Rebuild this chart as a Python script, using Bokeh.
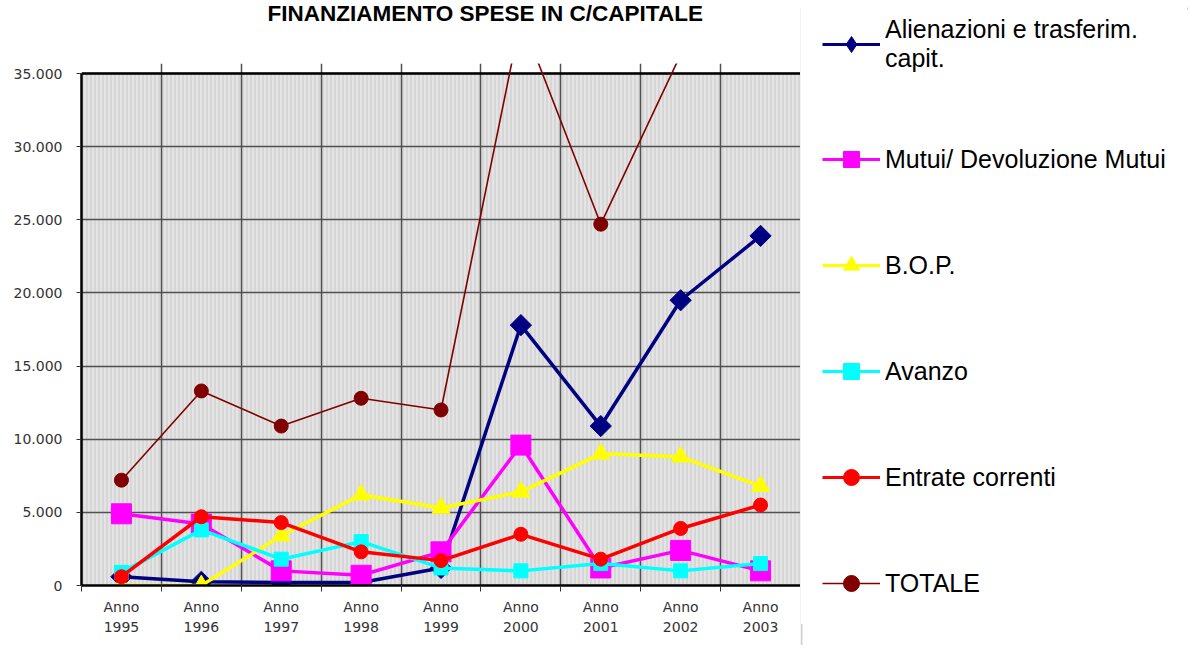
import numpy as np
from bokeh.plotting import figure
from bokeh.layouts import row, column
from bokeh.models import (Legend, LegendItem, FixedTicker, Range1d, BoxAnnotation, Span, Label)
from bokeh.embed import file_html
from bokeh.resources import INLINE

# ---------------- data ----------------
years = [1995, 1996, 1997, 1998, 1999, 2000, 2001, 2002, 2003]
alienazioni = [600, 250, 200, 200, 1200, 17800, 10900, 19500, 23900]
mutui = [4900, 4200, 1000, 700, 2300, 9600, 1200, 2400, 1000]
bop = [0, 0, 3400, 6200, 5300, 6400, 9000, 8800, 6800]
avanzo = [900, 3800, 1800, 3000, 1200, 1000, 1500, 1000, 1500]
entrate = [600, 4700, 4300, 2300, 1700, 3500, 1800, 3900, 5500]
totale = [7200, 13300, 10900, 12800, 12000, 38800, 24700, 36300, 38700]
series_names = ["Alienazioni e trasferim.\ncapit.", "Mutui/ Devoluzione Mutui", "B.O.P.",
                "Avanzo", "Entrate correnti", "TOTALE"]
y_ticks = [0, 5000, 10000, 15000, 20000, 25000, 30000, 35000]
title_text = "FINANZIAMENTO SPESE IN C/CAPITALE"

# ---------------- layout ----------------
W, H = 1188, 645
main_w = 800
title_h = 28
main_h = H - title_h
left_b = 81
top_b = 63 - title_h
frame_bottom = 585 - title_h
bottom_b = main_h - frame_bottom
y_top = y_ticks[-1] * 1.0196
leg_w = W - main_w

# title strip
tfig = figure(width=main_w, height=title_h, output_backend="svg", toolbar_location=None,
              x_range=Range1d(0, 1), y_range=Range1d(0, 1), min_border=0,
              x_axis_type=None, y_axis_type=None)
tfig.outline_line_color = None
tfig.grid.visible = False
tfig.add_layout(Label(x=186, y=3, x_units="screen", y_units="screen", text=title_text,
                      text_font="Liberation Sans", text_font_style="bold",
                      text_font_size="22.5px", text_color="black",
                      text_align="left", text_baseline="bottom"))

# main chart
p = figure(width=main_w, height=main_h, output_backend="svg", toolbar_location=None,
           x_range=Range1d(years[0] - 0.5, years[-1] + 0.5),
           y_range=Range1d(0, y_top),
           min_border_left=left_b, min_border_right=0,
           min_border_top=top_b, min_border_bottom=bottom_b)
p.background_fill_color = "white"
p.border_fill_color = "white"
p.outline_line_color = None

p.add_layout(BoxAnnotation(bottom=y_ticks[0], top=y_ticks[-1], fill_color="#e4e4e4", fill_alpha=1,
                           hatch_pattern="vertical_line", hatch_color="#d2d2d2", hatch_scale=4,
                           hatch_weight=1.5, line_color=None, level="image"))

bounds_x = [y - 0.5 for y in years] + [years[-1] + 0.5]

p.xgrid.ticker = FixedTicker(ticks=bounds_x)
p.xgrid.grid_line_color = "#505050"
p.xgrid.grid_line_width = 1.5
p.xgrid.bounds = (y_ticks[0], y_ticks[-1])
p.ygrid.ticker = FixedTicker(ticks=y_ticks)
p.ygrid.grid_line_color = "#505050"
p.ygrid.grid_line_width = 1.5
p.add_layout(Span(location=y_ticks[-1], dimension="width", line_color="black",
                  line_width=2.5, level="underlay"))

p.yaxis.ticker = FixedTicker(ticks=y_ticks)
p.yaxis.major_label_overrides = {t: f"{t:,}".replace(",", ".") for t in y_ticks}
p.yaxis.bounds = (y_ticks[0], y_ticks[-1])
p.yaxis.axis_line_color = "black"
p.yaxis.axis_line_width = 2.5
p.yaxis.major_tick_out = 5
p.yaxis.major_tick_in = 0
p.yaxis.major_tick_line_color = "#333333"
p.yaxis.minor_tick_line_color = None
p.yaxis.major_label_text_font = "DejaVu Sans"
p.yaxis.major_label_text_font_size = "14px"
p.yaxis.major_label_text_color = "#333333"
p.yaxis.major_label_standoff = 14

p.xaxis.ticker = FixedTicker(ticks=years, minor_ticks=bounds_x)
p.xaxis.major_label_overrides = {y: f"Anno\n{y}" for y in years}
p.xaxis.axis_line_color = "black"
p.xaxis.axis_line_width = 2.5
p.xaxis.major_tick_line_color = None
p.xaxis.major_tick_out = 0
p.xaxis.major_tick_in = 0
p.xaxis.minor_tick_out = 6
p.xaxis.minor_tick_in = 0
p.xaxis.minor_tick_line_color = "#333333"
p.xaxis.major_label_text_font = "DejaVu Sans"
p.xaxis.major_label_text_font_size = "14px"
p.xaxis.major_label_text_color = "#333333"
p.xaxis.major_label_text_line_height = 1.3
p.xaxis.major_label_standoff = 7

# legend panel (its glyph copies lie outside its own ranges; only the legend shows)
lfig = figure(width=leg_w, height=H, output_backend="svg", toolbar_location=None,
              x_range=Range1d(0, leg_w), y_range=Range1d(0, H), min_border=0,
              x_axis_type=None, y_axis_type=None)
lfig.outline_line_color = None
lfig.grid.visible = False
lfig.background_fill_color = "white"
lfig.border_fill_color = "white"
# legend frame: only left and top edges fall inside the window
lfig.add_layout(BoxAnnotation(left=1, right=leg_w + 20, bottom=-20, top=H - 8,
                              fill_alpha=0, line_color="#666666", line_width=2,
                              level="overlay"))

series = [
    (alienazioni, "#000080", 3.5, "square", 15, np.pi / 4, "diamond"),
    (mutui, "#FF00FF", 3.5, "square", 20, 0, "square"),
    (bop, "#FFFF00", 3.5, "triangle", 18, 0, "triangle"),
    (avanzo, "#00FFFF", 3.5, "square", 14, 0, "square"),
    (entrate, "#FF0000", 3.5, "circle", 14, 0, "circle"),
    (totale, "#800000", 1.6, "circle", 14, 0, "circle"),
]

items = []
for name, (vals, color, lw, marker, size, ang, lmarker) in zip(series_names, series):
    p.line(years, vals, line_color=color, line_width=lw)
    p.scatter(years, vals, marker=marker, size=size, angle=ang,
              fill_color=color, line_color=color)
    lr = lfig.line(years, vals, line_color=color, line_width=min(lw, 3))
    sr = lfig.scatter(years, vals, marker=lmarker, size=size,
                      fill_color=color, line_color=color)
    items.append(LegendItem(label=name, renderers=[lr, sr]))

legend = Legend(items=items, location=(1, 21), orientation="vertical", ncols=1,
                padding=20, spacing=66, margin=0,
                glyph_width=58, glyph_height=40, label_height=40, label_standoff=5,
                label_text_font="Liberation Sans", label_text_font_size="25px",
                label_text_color="black",
                border_line_color="white", border_line_width=1,
                background_fill_color="white", background_fill_alpha=1)
lfig.add_layout(legend)

layout = row(column(tfig, p, spacing=0), lfig, spacing=0)
open("out.html", "w").write(file_html(layout, INLINE))
